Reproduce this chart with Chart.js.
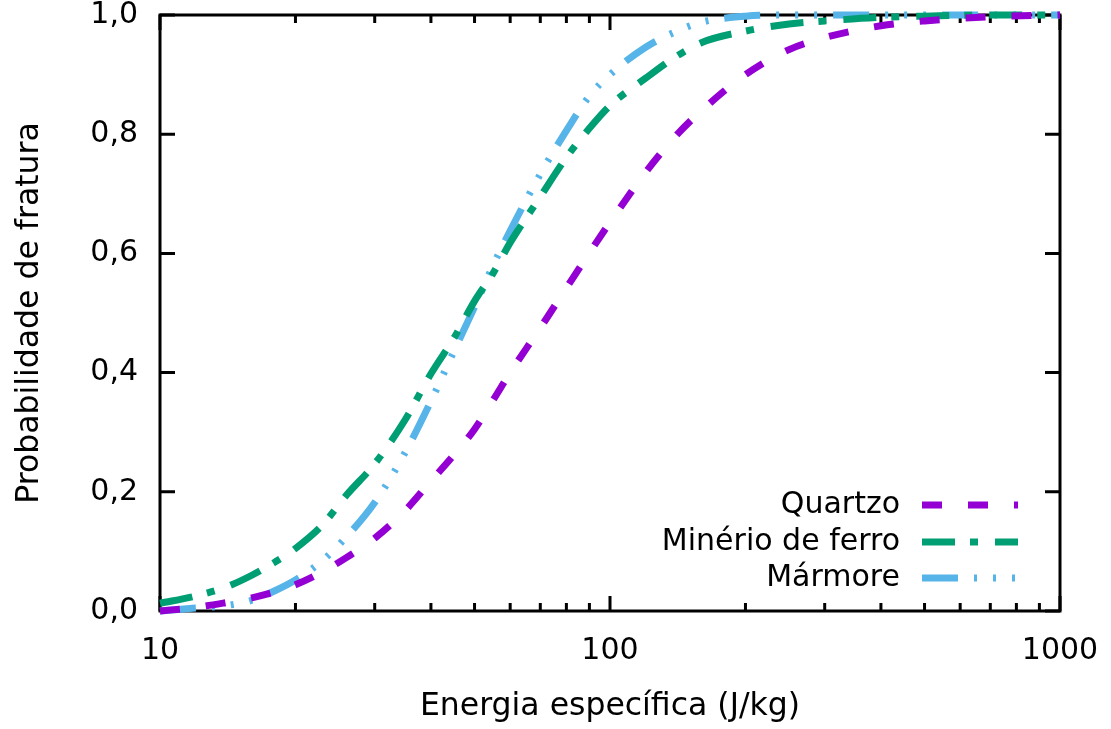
<!DOCTYPE html>
<html>
<head>
<meta charset="utf-8">
<script src="https://cdn.jsdelivr.net/npm/chart.js@4/dist/chart.umd.min.js"></script>
<style>
  html, body { margin: 0; padding: 0; background: #fff; }
  #wrap { width: 1111px; height: 729px; }
</style>
</head>
<body>
<div id="wrap"><canvas id="chart"></canvas></div>
<script>
// energia especifica (J/kg)
const energy = [10, 12, 14, 16, 18, 20, 23, 26, 30, 35, 40, 45, 50, 55, 60, 70, 80, 90, 100, 120, 140, 160, 200, 250, 300, 400, 500, 700, 1000];
const quartzo = [0.0, 0.006, 0.014, 0.022, 0.032, 0.044, 0.066, 0.09, 0.122, 0.168, 0.218, 0.262, 0.305, 0.354, 0.4, 0.475, 0.542, 0.601, 0.652, 0.736, 0.797, 0.84, 0.9, 0.942, 0.962, 0.982, 0.99, 0.997, 1.0];
const minerio = [0.013, 0.025, 0.04, 0.06, 0.082, 0.105, 0.145, 0.195, 0.247, 0.32, 0.398, 0.458, 0.52, 0.567, 0.618, 0.695, 0.761, 0.81, 0.848, 0.894, 0.93, 0.954, 0.973, 0.985, 0.99, 0.996, 0.998, 1.0, 1.0];
const marmore = [0.0, 0.005, 0.009, 0.018, 0.034, 0.052, 0.085, 0.125, 0.182, 0.265, 0.352, 0.436, 0.51, 0.58, 0.638, 0.733, 0.806, 0.864, 0.9, 0.946, 0.972, 0.988, 0.998, 1.0, 1.0, 1.0, 1.0, 1.0, 1.0];
const labels = ["Quartzo", "Minério de ferro", "Mármore"];
const xMajor = [10, 100, 1000];
const yTicks = [0, 0.2, 0.4, 0.6, 0.8, 1.0];

const colors = ["#9400d3", "#009e73", "#56b4e9"];
const dashes = [[20, 26], [33, 15, 8, 17], [36, 16, 3, 16, 3, 16, 3, 16]];
const FONT = "'DejaVu Sans', sans-serif";

function pts(ys) {
  return energy.map((e, i) => ({ x: e, y: ys[i] }));
}

// frame + inward ticks on all four sides, legend drawn by hand
const framePlugin = {
  id: "frame",
  beforeDatasetsDraw(chart) {
    const { ctx, chartArea: a, scales } = chart;
    ctx.save();
    ctx.strokeStyle = "#000";
    ctx.lineWidth = 3;
    ctx.beginPath();
    for (let d = 10; d < 1000; d *= 10) {
      for (let k = 1; k <= 10; k++) {
        const px = scales.x.getPixelForValue(d * k);
        const len = (k === 1 || k === 10) ? 15 : 8;
        ctx.moveTo(px, a.bottom); ctx.lineTo(px, a.bottom - len);
        ctx.moveTo(px, a.top); ctx.lineTo(px, a.top + len);
      }
    }
    yTicks.forEach((v) => {
      const py = scales.y.getPixelForValue(v);
      ctx.moveTo(a.left, py); ctx.lineTo(a.left + 15, py);
      ctx.moveTo(a.right, py); ctx.lineTo(a.right - 15, py);
    });
    ctx.stroke();
    ctx.strokeRect(a.left, a.top, a.right - a.left, a.bottom - a.top);
    ctx.restore();
  },
  afterDraw(chart) {
    const { ctx } = chart;
    ctx.save();
    ctx.font = "30px " + FONT;
    ctx.textAlign = "right";
    ctx.textBaseline = "middle";
    ctx.fillStyle = "#000";
    const rows = [505, 542, 578];
    labels.forEach((t, i) => {
      ctx.fillText(t, 900, rows[i]);
      ctx.strokeStyle = colors[i];
      ctx.lineWidth = 7;
      ctx.setLineDash(dashes[i]);
      ctx.beginPath();
      ctx.moveTo(922, rows[i]);
      ctx.lineTo(1018, rows[i]);
      ctx.stroke();
    });
    ctx.restore();
  },
};

const series = [quartzo, minerio, marmore];
new Chart(document.getElementById("chart"), {
  type: "line",
  data: {
    datasets: series.map((s, i) => ({
      label: labels[i],
      data: pts(s),
      borderColor: colors[i],
      borderWidth: 7,
      borderDash: dashes[i],
      pointRadius: 0,
      cubicInterpolationMode: "monotone",
      fill: false,
      clip: 6,
    })),
  },
  options: {
    responsive: true,
    maintainAspectRatio: false,
    animation: false,
    layout: { padding: { top: 15, right: 51, left: 0, bottom: 0 } },
    plugins: { legend: { display: false }, tooltip: { enabled: false } },
    scales: {
      x: {
        type: "logarithmic",
        min: 10,
        max: 1000,
        afterFit: (s) => {
          s.height = 118;
          s.paddingLeft = 0;
          s.paddingRight = 0;
        },
        afterBuildTicks: (s) => { s.ticks = xMajor.map((v) => ({ value: v, major: true })); },
        grid: { display: false, drawTicks: false },
        border: { display: false },
        ticks: {
          color: "#000",
          padding: 22,
          maxRotation: 0,
          font: { family: FONT, size: 30 },
          callback: (v) => String(v),
        },
        title: {
          display: true,
          text: "Energia específica (J/kg)",
          color: "#000",
          font: { family: FONT, size: 31.5 },
          padding: { top: 0, bottom: 3 },
        },
      },
      y: {
        min: 0,
        max: 1,
        afterFit: (s) => {
          s.width = 160;
          s.paddingTop = 0;
          s.paddingBottom = 0;
        },
        afterBuildTicks: (s) => { s.ticks = yTicks.map((v) => ({ value: v })); },
        grid: { display: false, drawTicks: false },
        border: { display: false },
        ticks: {
          color: "#000",
          padding: 22,
          font: { family: FONT, size: 30 },
          callback: (v) => v.toFixed(1).replace(".", ","),
        },
        title: {
          display: true,
          text: "Probabilidade de fratura",
          color: "#000",
          font: { family: FONT, size: 31.5 },
          padding: { top: 11, bottom: 0 },
        },
      },
    },
  },
  plugins: [framePlugin],
});
</script>
</body>
</html>
